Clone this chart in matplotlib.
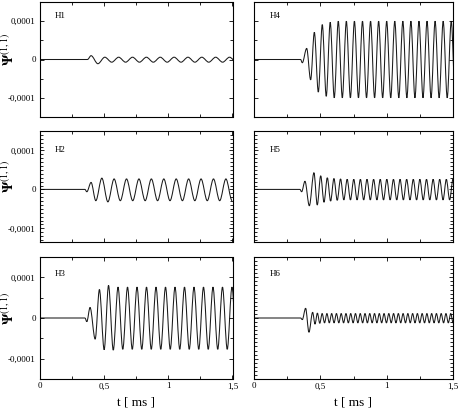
import numpy as np
import matplotlib
matplotlib.use('Agg')
import matplotlib.pyplot as plt
from matplotlib.path import Path
from matplotlib.patches import PathPatch
from matplotlib.ticker import FixedLocator, MultipleLocator

plt.rcParams['font.family'] = ['Liberation Serif', 'DejaVu Serif']
plt.rcParams['mathtext.fontset'] = 'stix'

SCALE = 1e-4  # values below are in units of 0.0001

# extrema of each trace: transient part (explicit times)
# then the steady part, one value per half period
h1_on = 0.37
h1_lead_t = [0.398, 0.451]
h1_lead_v = [0.10, -0.11]
h1_half = 0.054
h1_steady = [0.06, -0.07, 0.06, -0.07, 0.06, -0.07, 0.06, -0.07, 0.06, -0.07,
             0.06, -0.07, 0.06, -0.07, 0.06, -0.07, 0.06, -0.07, 0.06, -0.07]

h2_on = 0.35
h2_lead_t = [0.365, 0.398, 0.435, 0.482, 0.529]
h2_lead_v = [-0.06, 0.18, -0.29, 0.29, -0.32]
h2_half = 0.0484
h2_steady = [0.27, -0.29, 0.27, -0.29, 0.27, -0.29, 0.27, -0.29, 0.27, -0.29,
             0.27, -0.29, 0.27, -0.29, 0.27, -0.29, 0.27, -0.29, 0.27, -0.29]

h3_on = 0.35
h3_lead_t = [0.365, 0.39, 0.43, 0.463, 0.50, 0.534, 0.571]
h3_lead_v = [-0.09, 0.26, -0.52, 0.70, -0.78, 0.80, -0.79]
h3_half = 0.037
h3_steady = [0.76, -0.77, 0.76, -0.77, 0.76, -0.77, 0.76, -0.77, 0.76, -0.77,
             0.76, -0.77, 0.76, -0.77, 0.76, -0.77, 0.76, -0.77, 0.76, -0.77,
             0.76, -0.77, 0.76, -0.77, 0.76, -0.77]

h4_on = 0.35
h4_lead_t = [0.363, 0.396, 0.426, 0.454, 0.484, 0.514, 0.544, 0.574]
h4_lead_v = [-0.085, 0.29, -0.53, 0.71, -0.85, 0.91, -0.96, 0.97]
h4_half = 0.0305
h4_steady = [-1.0, 1.0, -1.0, 1.0, -1.0, 1.0, -1.0, 1.0, -1.0, 1.0,
             -1.0, 1.0, -1.0, 1.0, -1.0, 1.0, -1.0, 1.0, -1.0, 1.0,
             -1.0, 1.0, -1.0, 1.0, -1.0, 1.0, -1.0, 1.0, -1.0, 1.0, -1.0]

h5_on = 0.345
h5_lead_t = [0.358, 0.383, 0.416, 0.451, 0.476, 0.502, 0.527]
h5_lead_v = [-0.06, 0.21, -0.42, 0.43, -0.40, 0.35, -0.33]
h5_half = 0.025
h5_steady = [0.30, -0.30, 0.28, -0.28, 0.27, -0.27, 0.26, -0.27, 0.26, -0.27,
             0.26, -0.27, 0.26, -0.27, 0.26, -0.27, 0.26, -0.27, 0.26, -0.27,
             0.26, -0.27, 0.26, -0.27, 0.26, -0.27, 0.26, -0.27, 0.26, -0.27,
             0.26, -0.27, 0.26, -0.27, 0.26, -0.27, 0.26, -0.27, 0.26, -0.27, 0.26]

h6_on = 0.35
h6_lead_t = [0.363, 0.388, 0.413, 0.441]
h6_lead_v = [-0.04, 0.24, -0.35, 0.14]
h6_half = 0.018
h6_steady = [-0.15, 0.12, -0.13, 0.11, -0.12, 0.11, -0.12, 0.11, -0.12, 0.11,
             -0.12, 0.11, -0.12, 0.11, -0.12, 0.11, -0.12, 0.11, -0.12, 0.11,
             -0.12, 0.11, -0.12, 0.11, -0.12, 0.11, -0.12, 0.11, -0.12, 0.11,
             -0.12, 0.11, -0.12, 0.11, -0.12, 0.11, -0.12, 0.11, -0.12, 0.11,
             -0.12, 0.11, -0.12, 0.11, -0.12, 0.11, -0.12, 0.11, -0.12, 0.11,
             -0.12, 0.11, -0.12, 0.11, -0.12, 0.11, -0.12, 0.11, -0.12, 0.11,
             -0.12, 0.11]

panel_names = ['H1', 'H2', 'H3', 'H4', 'H5', 'H6']
x_ticks = [0, 0.5, 1, 1.5]
x_ticklabels = ['0', '0,5', '1', '1,5']
y_ticks = [-1e-4, 0, 1e-4]
y_ticklabels = ['-0,0001', '0', '0,0001']

traces = [
    (h1_on, h1_lead_t, h1_lead_v, h1_half, h1_steady),
    (h2_on, h2_lead_t, h2_lead_v, h2_half, h2_steady),
    (h3_on, h3_lead_t, h3_lead_v, h3_half, h3_steady),
    (h4_on, h4_lead_t, h4_lead_v, h4_half, h4_steady),
    (h5_on, h5_lead_t, h5_lead_v, h5_half, h5_steady),
    (h6_on, h6_lead_t, h6_lead_v, h6_half, h6_steady),
]


def wave_path(t, v):
    # smooth curve between successive extrema (flat tangent at each extremum)
    verts = [(t[0], v[0])]
    codes = [Path.MOVETO]
    for k in range(len(t) - 1):
        d = t[k + 1] - t[k]
        verts += [(t[k] + d / 3, v[k]), (t[k + 1] - d / 3, v[k + 1]), (t[k + 1], v[k + 1])]
        codes += [Path.CURVE4] * 3
    return Path(verts, codes)


W, H = 463, 409
fig = plt.figure(figsize=(W / 100, H / 100), dpi=100)

# pixel boxes (left, right) / (top, bottom) measured on the reference
cols = [(40, 232.5), (254.3, 452.7)]
rows = [(2, 117), (131, 242), (257, 379)]
row_ylim = [(-1.5e-4, 1.5e-4), (-1.35e-4, 1.5e-4), (-1.5e-4, 1.5e-4)]
label_y = [0.875, 0.83, 0.86]
dense_minor = {'H2', 'H5', 'H6'}

for i, name in enumerate(panel_names):
    c, r = i // 3, i % 3
    x0, x1 = cols[c]
    y0, y1 = rows[r]
    ax = fig.add_axes([x0 / W, 1 - y1 / H, (x1 - x0) / W, (y1 - y0) / H])

    t_on, lead_t, lead_v, half, steady = traces[i]
    t_steady = lead_t[-1] + half * np.arange(1, len(steady) + 1)
    t = np.concatenate([[0.0, t_on], lead_t, t_steady])
    v = np.concatenate([[0.0, 0.0], lead_v, steady]) * SCALE
    ax.add_patch(PathPatch(wave_path(t, v), fill=False, edgecolor='#1a1a1a', lw=0.75))

    ax.set_xlim(0, 1.5)
    ax.set_ylim(*row_ylim[r])
    ax.xaxis.set_major_locator(FixedLocator(x_ticks))
    ax.xaxis.set_minor_locator(MultipleLocator(0.25))
    ax.yaxis.set_major_locator(FixedLocator(y_ticks))
    ax.yaxis.set_minor_locator(MultipleLocator(0.1e-4 if name in dense_minor else 0.5e-4))
    ax.tick_params(which='both', direction='in', top=True, right=True, width=0.6,
                   labelsize=6.5)
    ax.tick_params(which='major', length=3)
    ax.tick_params(which='minor', length=2)
    ax.tick_params(axis='x', pad=2.5)
    ax.tick_params(axis='y', pad=3)
    for s in ax.spines.values():
        s.set_linewidth(0.8)

    if r == 2:
        ax.set_xticklabels(x_ticklabels)
        ax.set_xlabel('t [ ms ]', fontsize=9.5, labelpad=4)
    else:
        ax.set_xticklabels([])
    if c == 0:
        ax.set_yticklabels(y_ticklabels)
        yc = (y0 + y1) / 2 - 10
        fig.text(9 / W, 1 - yc / H, r'$\mathbf{\Psi}^{(1,1)}$', fontsize=10,
                 rotation=90, ha='center', va='center')
    else:
        ax.set_yticklabels([])

    ax.text(0.078, label_y[r], name, transform=ax.transAxes, fontsize=6.5,
            va='center', ha='left')

fig.savefig('out.png', dpi=100)
